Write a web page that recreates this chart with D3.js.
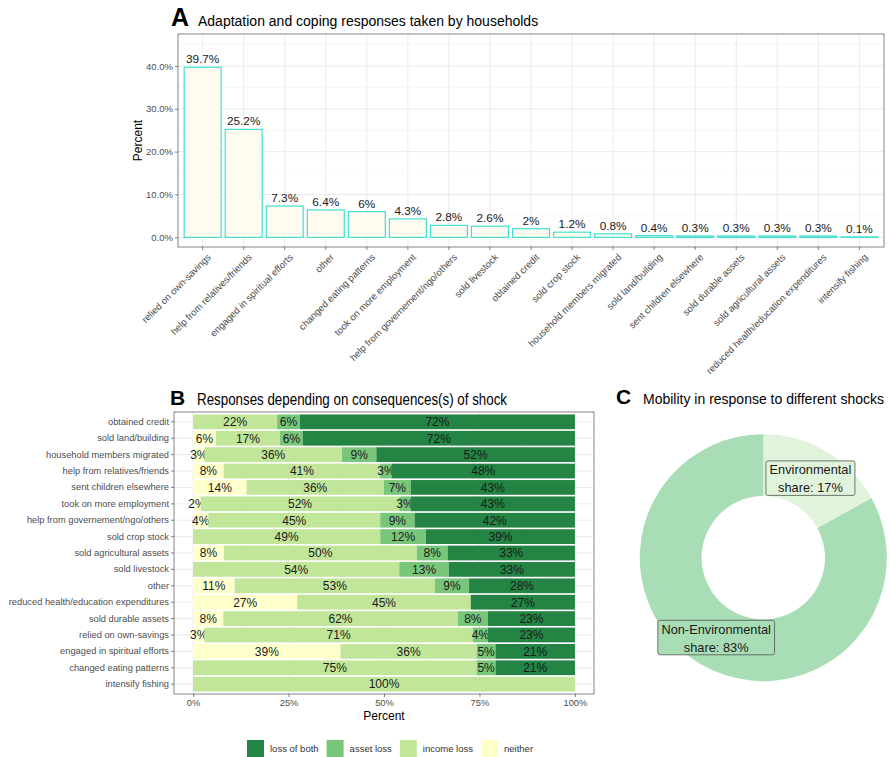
<!DOCTYPE html>
<html>
<head>
<meta charset="utf-8">
<script src="https://cdnjs.cloudflare.com/ajax/libs/d3/7.8.5/d3.min.js"></script>
<style>
    body { margin: 0; background: #fff; }
    svg { display: block; font-family: "Liberation Sans", Arial, sans-serif; }
</style>
</head>
<body>
<svg id="chart" width="890" height="757"></svg>
<script>
// panel A: share of households per response
const aCategories = [
    "relied on own-savings", "help from relatives/friends", "engaged in spiritual efforts",
    "other", "changed eating patterns", "took on more employment",
    "help from governement/ngo/others", "sold livestock", "obtained credit", "sold crop stock",
    "household members migrated", "sold land/building", "sent children elsewhere",
    "sold durable assets", "sold agricultural assets", "reduced health/education expenditures",
    "intensify fishing"
];
const aValues = [39.7, 25.2, 7.3, 6.4, 6, 4.3, 2.8, 2.6, 2, 1.2, 0.8, 0.4, 0.3, 0.3, 0.3, 0.3, 0.1];
const aTicks = [0, 10, 20, 30, 40];

// panel B: consequences of shock, rows top to bottom
const bCategories = [
    "obtained credit", "sold land/building", "household members migrated",
    "help from relatives/friends", "sent children elsewhere", "took on more employment",
    "help from governement/ngo/others", "sold crop stock", "sold agricultural assets",
    "sold livestock", "other", "reduced health/education expenditures", "sold durable assets",
    "relied on own-savings", "engaged in spiritual efforts", "changed eating patterns",
    "intensify fishing"
];
const bNeither = [0, 6, 3, 8, 14, 2, 4, 0, 8, 0, 11, 27, 8, 3, 39, 0, 0];
const bIncome  = [22, 17, 36, 41, 36, 52, 45, 49, 50, 54, 53, 45, 62, 71, 36, 75, 100];
const bAsset   = [6, 6, 9, 3, 7, 3, 9, 12, 8, 13, 9, 0, 8, 4, 5, 5, 0];
const bBoth    = [72, 72, 52, 48, 43, 43, 42, 39, 33, 33, 28, 27, 23, 23, 21, 21, 0];
const bKeys = ["neither", "income loss", "asset loss", "loss of both"];
const bTicks = [0, 0.25, 0.5, 0.75, 1];

// panel C: mobility shares
const cCategories = ["Environmental", "Non-Environmental"];
const cShares = [17, 83];

const legendKeys = ["loss of both", "asset loss", "income loss", "neither"];
const bColors = {
    "loss of both": "#238443",
    "asset loss": "#78c679",
    "income loss": "#c2e699",
    "neither": "#ffffcc"
};
const cColors = ["#e0f3db", "#a8ddb5"];

const svg = d3.select("#chart");

drawPanelA();
drawPanelB();
drawPanelC();
drawLegend();

function styleAxis(g, size) {
    g.select(".domain").remove();
    g.selectAll(".tick line").attr("stroke", "#333").attr("stroke-width", 0.6);
    g.selectAll(".tick text").attr("fill", "#4d4d4d").style("font-size", size + "px");
}

function drawPanelA() {
    const left = 178, right = 884, top = 34, bottom = 247;
    const g = svg.append("g");

    const x = d3.scaleBand()
        .domain(aCategories)
        .range([left, right])
        .paddingInner(0.1)
        .paddingOuter(0.15);
    const y = d3.scaleLinear().domain([-2.26, 47.46]).range([bottom, top]);

    //grid
    g.selectAll(".minor")
        .data([5, 15, 25, 35, 45])
        .join("line")
        .attr("x1", left).attr("x2", right)
        .attr("y1", d => y(d)).attr("y2", d => y(d))
        .attr("stroke", "#f2f2f2").attr("stroke-width", 0.6);
    g.selectAll(".major")
        .data(aTicks)
        .join("line")
        .attr("x1", left).attr("x2", right)
        .attr("y1", d => y(d)).attr("y2", d => y(d))
        .attr("stroke", "#ebebeb").attr("stroke-width", 1);
    g.selectAll(".vgrid")
        .data(aCategories)
        .join("line")
        .attr("x1", d => x(d) + x.bandwidth() / 2).attr("x2", d => x(d) + x.bandwidth() / 2)
        .attr("y1", top).attr("y2", bottom)
        .attr("stroke", "#ebebeb").attr("stroke-width", 1);

    //bars
    g.selectAll(".bar")
        .data(aValues)
        .join("rect")
        .attr("x", (d, i) => x(aCategories[i]))
        .attr("width", x.bandwidth())
        .attr("y", d => y(d))
        .attr("height", d => y(0) - y(d))
        .attr("fill", "#fffcef")
        .attr("stroke", "#40e0d0")
        .attr("stroke-width", 1.2);

    g.selectAll(".value")
        .data(aValues)
        .join("text")
        .attr("x", (d, i) => x(aCategories[i]) + x.bandwidth() / 2)
        .attr("y", d => y(d) - 4)
        .attr("text-anchor", "middle")
        .attr("fill", "#1a1a1a")
        .style("font-size", "11.8px")
        .text(d => d + "%");

    g.append("rect")
        .attr("x", left).attr("y", top)
        .attr("width", right - left).attr("height", bottom - top)
        .attr("fill", "none").attr("stroke", "#666").attr("stroke-width", 0.8);

    //axes
    g.append("g")
        .attr("transform", `translate(${left},0)`)
        .call(d3.axisLeft(y).tickValues(aTicks).tickFormat(d => d.toFixed(1) + "%").tickSize(3).tickPadding(2))
        .call(ax => styleAxis(ax, 9.5));

    g.append("g")
        .attr("transform", `translate(0,${bottom})`)
        .call(d3.axisBottom(x).tickSize(3))
        .call(ax => styleAxis(ax, 9.6))
        .selectAll(".tick text")
        .attr("x", 0).attr("y", 0).attr("dy", "0.71em")
        .attr("text-anchor", "end")
        .attr("transform", "translate(4,6) rotate(-45)");

    g.append("text")
        .attr("transform", "translate(138,140.5) rotate(-90)")
        .attr("text-anchor", "middle")
        .attr("dy", "0.35em")
        .style("font-size", "12px")
        .text("Percent");

    //title
    g.append("text").attr("x", 171).attr("y", 26)
        .style("font-size", "25px").style("font-weight", "bold").text("A");
    g.append("text").attr("x", 198).attr("y", 26)
        .style("font-size", "14px").text("Adaptation and coping responses taken by households");
}

function drawPanelB() {
    const left = 174, right = 594, top = 412, bottom = 694;
    const g = svg.append("g");

    const x = d3.scaleLinear().domain([-0.05, 1.05]).range([left, right]);
    const y = d3.scaleBand()
        .domain(bCategories)
        .range([top, bottom])
        .paddingInner(0.1)
        .paddingOuter(0.15);

    const rows = bCategories.map((c, i) => ({
        category: c,
        "neither": bNeither[i],
        "income loss": bIncome[i],
        "asset loss": bAsset[i],
        "loss of both": bBoth[i]
    }));
    const series = d3.stack().keys(bKeys).offset(d3.stackOffsetExpand)(rows);

    //grid
    g.selectAll(".minor")
        .data([0.125, 0.375, 0.625, 0.875])
        .join("line")
        .attr("x1", d => x(d)).attr("x2", d => x(d))
        .attr("y1", top).attr("y2", bottom)
        .attr("stroke", "#f2f2f2").attr("stroke-width", 0.6);
    g.selectAll(".major")
        .data(bTicks)
        .join("line")
        .attr("x1", d => x(d)).attr("x2", d => x(d))
        .attr("y1", top).attr("y2", bottom)
        .attr("stroke", "#ebebeb").attr("stroke-width", 1);
    g.selectAll(".hgrid")
        .data(bCategories)
        .join("line")
        .attr("x1", left).attr("x2", right)
        .attr("y1", d => y(d) + y.bandwidth() / 2).attr("y2", d => y(d) + y.bandwidth() / 2)
        .attr("stroke", "#ebebeb").attr("stroke-width", 1);

    //stacked bars
    const layer = g.selectAll(".layer")
        .data(series)
        .join("g")
        .attr("fill", s => bColors[s.key]);

    layer.selectAll("rect")
        .data(s => s.filter(d => d[1] > d[0]))
        .join("rect")
        .attr("x", d => x(d[0]))
        .attr("width", d => x(d[1]) - x(d[0]))
        .attr("y", d => y(d.data.category))
        .attr("height", y.bandwidth());

    layer.selectAll("text")
        .data(s => s.filter(d => d[1] > d[0]).map(d => ({ d, value: d.data[s.key] })))
        .join("text")
        .attr("x", o => x((o.d[0] + o.d[1]) / 2))
        .attr("y", o => y(o.d.data.category) + y.bandwidth() / 2)
        .attr("dy", "0.36em")
        .attr("text-anchor", "middle")
        .attr("fill", "#1a1a1a")
        .style("font-size", "12px")
        .text(o => o.value + "%");

    g.append("rect")
        .attr("x", left).attr("y", top)
        .attr("width", right - left).attr("height", bottom - top)
        .attr("fill", "none").attr("stroke", "#666").attr("stroke-width", 0.8);

    //axes
    g.append("g")
        .attr("transform", `translate(${left},0)`)
        .call(d3.axisLeft(y).tickSize(3).tickPadding(2))
        .call(ax => styleAxis(ax, 9.3));

    g.append("g")
        .attr("transform", `translate(0,${bottom})`)
        .call(d3.axisBottom(x).tickValues(bTicks).tickFormat(d3.format(".0%")).tickSize(3).tickPadding(2))
        .call(ax => styleAxis(ax, 9.4));

    g.append("text")
        .attr("x", (x(0) + x(1)) / 2).attr("y", 720)
        .attr("text-anchor", "middle")
        .style("font-size", "12px")
        .text("Percent");

    //title
    g.append("text").attr("x", 170).attr("y", 405)
        .style("font-size", "21px").style("font-weight", "bold").text("B");
    g.append("text").attr("x", 197).attr("y", 405)
        .attr("textLength", 310).attr("lengthAdjust", "spacingAndGlyphs")
        .style("font-size", "16px").text("Responses depending on consequences(s) of shock");
}

function drawPanelC() {
    const cx = 763.3, cy = 557.7, outer = 123.5, inner = 61.7;
    const g = svg.append("g").attr("transform", `translate(${cx},${cy})`);

    const pie = d3.pie().sort(null).value(d => d);
    const arcs = pie(cShares);
    const arc = d3.arc().innerRadius(inner).outerRadius(outer);

    g.selectAll("path")
        .data(arcs)
        .join("path")
        .attr("d", arc)
        .attr("fill", (d, i) => cColors[i]);

    arcs.forEach((a, i) => {
        const [lx, ly] = arc.centroid(a);
        const label = g.append("g");
        const box = label.append("rect");
        const text = label.append("text")
            .attr("text-anchor", "middle")
            .attr("fill", "#1a1a1a")
            .style("font-size", "12.8px");
        text.append("tspan").attr("x", lx).attr("y", ly - 3.6).text(cCategories[i]);
        text.append("tspan").attr("x", lx).attr("y", ly + 14.4).text(`share: ${cShares[i]}%`);
        const bb = text.node().getBBox();
        box.attr("x", bb.x - 3.6).attr("y", bb.y - 1.5)
            .attr("width", bb.width + 7.2).attr("height", bb.height + 1.5)
            .attr("rx", 2)
            .attr("fill", cColors[i])
            .attr("stroke", "#555").attr("stroke-width", 0.8);
    });

    //title
    svg.append("text").attr("x", 616).attr("y", 404)
        .style("font-size", "21px").style("font-weight", "bold").text("C");
    svg.append("text").attr("x", 643).attr("y", 404)
        .style("font-size", "14px").text("Mobility in response to different shocks");
}

function drawLegend() {
    const g = svg.append("g");
    let xPos = 247;
    legendKeys.forEach(key => {
        g.append("rect")
            .attr("x", xPos).attr("y", 740)
            .attr("width", 17).attr("height", 17)
            .attr("fill", bColors[key]);
        const t = g.append("text")
            .attr("x", xPos + 23).attr("y", 752)
            .attr("fill", "#333")
            .style("font-size", "9.5px")
            .text(key);
        xPos += 23 + t.node().getComputedTextLength() + 8;
    });
}
</script>
</body>
</html>
